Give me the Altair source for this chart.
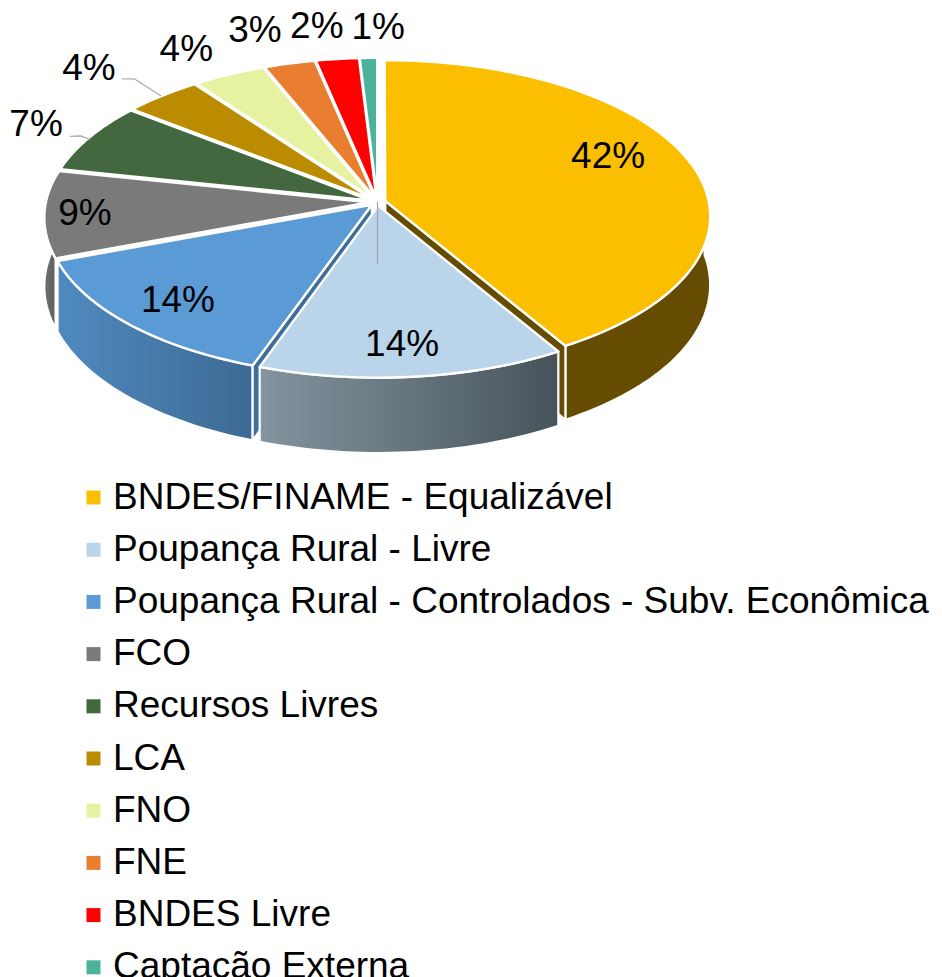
import math
import altair as alt
import pandas as pd

categories = ["BNDES/FINAME - Equalizável", "Poupança Rural - Livre",
              "Poupança Rural - Controlados - Subv. Econômica", "FCO", "Recursos Livres",
              "LCA", "FNO", "FNE", "BNDES Livre", "Captação Externa"]
values = [41.5, 13.9, 13.9, 9.0, 7.3, 4.3, 4.0, 2.8, 2.35, 0.95]
labels = ["42%", "14%", "14%", "9%", "7%", "4%", "4%", "3%", "2%", "1%"]
colors = ["#FBBF00", "#BAD4EA", "#5B9BD5", "#7A7A7A", "#43683F",
          "#BC8C00", "#E6F2A2", "#E97D30", "#FF0000", "#4CB39A"]

label_radius = [0.792, 0.853, 0.838, 0.901, 1.226, 1.352, 1.267, 1.309, 1.289, 1.262]
label_angle = [67.8, 175.3, 223.9, 265.1, 295.3, 314.0, 329.0, 341.1, 350.6, 0.1]
leaders = {
    "lca": [(1.215, 315.2), (1.187, 316.7), (1.025, 315.7)],
    "rec": [(1.085, 294.1), (1.056, 295.0), (1.015, 294.5)],
    "liv": [(0.0, 180.0), (0.39, 180.0)],
}

CX, CY, B, A, K, E, D = 377.5, 202, 323.5, 154.5, 0.096, 0.025, 68


def project(px, py, drop=0.0):
    """px, py on the unit disc (py towards the back) -> perspective view."""
    w = 1 + K * py
    return CX + B * px / w, CY - A * py / w + drop / w


def disc(r, deg, off=None):
    t = math.radians(deg)
    ox, oy = off if off else (0, 0)
    return ox + r * math.sin(t), oy + r * math.cos(t)


total = sum(values)
edges = [0.0]
for v in values:
    edges.append(edges[-1] + v / total * 360)

tops, walls = [], []


def add(rows, part, name, pts):
    for i, (x, y) in enumerate(pts):
        rows.append({"part": part, "cat": name, "x": x, "y": y, "i": i})


for n, name in enumerate(categories):
    a0, a1 = edges[n], edges[n + 1]
    mid = (a0 + a1) / 2
    off = (E * math.sin(math.radians(mid)), E * math.cos(math.radians(mid)))
    steps = max(4, int((a1 - a0) / 1.5))
    rim = [disc(1, a0 + (a1 - a0) * s / steps, off) for s in range(steps + 1)]
    add(tops, "top", name, [project(*off)] + [project(*p) for p in rim])
    # outer wall: only the front-facing stretch of the rim
    lo, hi = max(a0, 85), min(a1, 282)
    if hi > lo:
        steps = max(4, int((hi - lo) / 1.5))
        arc = [disc(1, lo + (hi - lo) * s / steps, off) for s in range(steps + 1)]
        add(walls, f"wall{n}", name,
            [project(*p) for p in arc] + [project(*p, D) for p in reversed(arc)])
    # cut face on the trailing or leading edge
    if n == 0:
        p = disc(1, a1, off)
        add(walls, "face0", name, [project(*off), project(*p), project(*p, D), project(*off, D)])
    if n == 2:
        p = disc(1, a0, off)
        add(walls, "face2", name, [project(*off), project(*p), project(*p, D), project(*off, D)])

top_df = pd.DataFrame(tops)
wall_df = pd.DataFrame(walls)

label_pts = [project(*disc(r, d)) for r, d in zip(label_radius, label_angle)]
label_df = pd.DataFrame({"x": [p[0] for p in label_pts], "y": [p[1] for p in label_pts], "t": labels})

lead_rows = []
for key, pts in leaders.items():
    for i, (r, d) in enumerate(pts):
        x, y = project(*disc(r, d))
        lead_rows.append({"k": key, "x": x, "y": y, "i": i})
lead_df = pd.DataFrame(lead_rows)

xs = alt.Scale(domain=[8, 934], nice=False, zero=False)
ys = alt.Scale(domain=[977, 8], nice=False, zero=False)
X = alt.X("x:Q", scale=xs, axis=None)
Y = alt.Y("y:Q", scale=ys, axis=None)


def grad(c0, c1):
    return alt.LinearGradient(gradient="linear", x1=0, x2=1, y1=0, y2=0,
                              stops=[alt.GradientStop(color=c0, offset=0),
                                     alt.GradientStop(color=c1, offset=1)])


def wall(part, fill):
    return alt.Chart(wall_df[wall_df.part == part]).mark_line(
        interpolate="linear-closed", fill=fill, stroke="white", strokeWidth=2.2, strokeJoin="round"
    ).encode(x=X, y=Y, order="i:Q")


layers = [
    wall("wall3", grad("#6E6E6E", "#5C5C5C")),
    wall("wall0", "#664C00"),
    wall("face0", "#664C00"),
    wall("wall2", grad("#4F8ABF", "#3D6A94")),
    wall("face2", "#3F6E99"),
    wall("wall1", grad("#84959F", "#47535B")),
]

top_layer = alt.Chart(top_df).mark_line(
    interpolate="linear-closed", stroke="white", strokeWidth=2.4, strokeJoin="round"
).encode(
    x=X, y=Y, order="i:Q", detail="cat:N",
    fill=alt.Fill(
        "cat:N",
        scale=alt.Scale(domain=categories, range=colors),
        legend=alt.Legend(
            orient="none", legendX=63, legendY=471, title=None,
            symbolType="square", symbolSize=196, symbolStrokeWidth=0,
            labelFont="Liberation Sans", labelFontSize=37, labelColor="black",
            labelLimit=900, rowPadding=14.2, labelOffset=1, padding=0,
            symbolOffset=4,
        ),
    ),
)
layers.append(top_layer)

layers.append(alt.Chart(lead_df).mark_line(color="#A6A6A6", strokeWidth=1.2).encode(
    x=X, y=Y, order="i:Q", detail="k:N", opacity=alt.value(1),
))

layers.append(alt.Chart(label_df).mark_text(
    font="Liberation Sans", fontSize=37, color="black", align="center", baseline="middle"
).encode(x=X, y=Y, text="t:N"))

chart = alt.layer(*layers).properties(
    width=926, height=969, padding=0, autosize=alt.AutoSizeParams(type="none"),
    background="white",
).configure_view(stroke=None)

chart.save("out.html", embed_options={"renderer": "svg", "actions": False})
